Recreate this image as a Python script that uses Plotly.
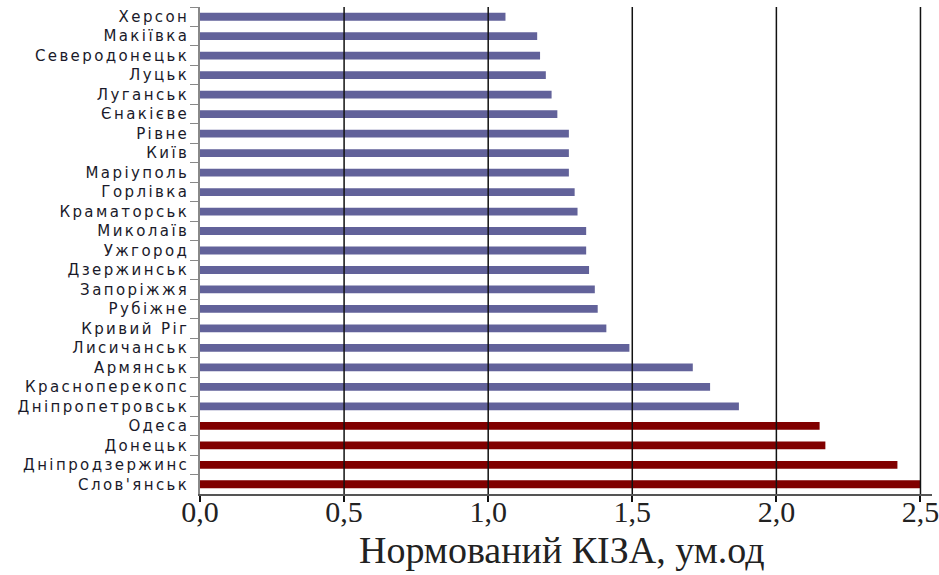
import plotly.graph_objects as go

# Normalised KIZA index by city, listed top to bottom
cities = [
    "Херсон", "Макіївка", "Северодонецьк", "Луцьк", "Луганськ", "Єнакієве",
    "Рівне", "Київ", "Маріуполь", "Горлівка", "Краматорськ", "Миколаїв",
    "Ужгород", "Дзержинськ", "Запоріжжя", "Рубіжне", "Кривий Ріг",
    "Лисичанськ", "Армянськ", "Красноперекопс", "Дніпропетровськ",
]
values = [
    1.06, 1.17, 1.18, 1.20, 1.22, 1.24,
    1.28, 1.28, 1.28, 1.30, 1.31, 1.34,
    1.34, 1.35, 1.37, 1.38, 1.41,
    1.49, 1.71, 1.77, 1.87,
]

# Cities with the highest index
top_cities = ["Одеса", "Донецьк", "Дніпродзержинс", "Слов'янськ"]
top_values = [2.15, 2.17, 2.42, 2.50]

x_ticks = [0.0, 0.5, 1.0, 1.5, 2.0, 2.5]
x_title = "Нормований КІЗА, ум.од"

all_cities = cities + top_cities

fig = go.Figure()
fig.add_trace(go.Bar(
    y=cities, x=values, orientation="h", width=0.4,
    marker=dict(color="#62629a", line=dict(width=0)),
))
fig.add_trace(go.Bar(
    y=top_cities, x=top_values, orientation="h", width=0.4,
    marker=dict(color="#800000", line=dict(width=0)),
))

# Vertical grid lines drawn over the bars
for t in x_ticks[1:]:
    fig.add_shape(type="line", x0=t, x1=t, y0=0, y1=1, xref="x", yref="paper",
                  line=dict(color="#111111", width=1.5), layer="above")

# Axis title below the tick labels
fig.add_annotation(
    text=x_title, xref="paper", yref="paper", x=0.494, y=0,
    xanchor="center", yanchor="top", yshift=-33, showarrow=False,
    font=dict(family="Liberation Serif", size=38, color="#222222"),
)

fig.update_layout(
    width=939, height=575,
    margin=dict(l=200, r=7, t=7, b=81, autoexpand=False),
    paper_bgcolor="white", plot_bgcolor="white",
    showlegend=False,
    separators=", ",
    bargap=0.6,
)
fig.update_xaxes(
    range=[0, 2.54], tickvals=x_ticks, tickformat=".1f",
    showgrid=False, zeroline=False,
    showline=True, linecolor="#555555", linewidth=1.5,
    ticks="outside", ticklen=6, tickcolor="#111111", tickwidth=1.5,
    ticklabeloverflow="allow", ticklabelstandoff=-16,
    tickfont=dict(family="Liberation Serif", size=30, color="#222222"),
)
fig.update_yaxes(
    categoryorder="array", categoryarray=all_cities, autorange="reversed",
    showgrid=False, zeroline=False,
    showline=True, linecolor="#888888", linewidth=1.5,
    ticks="outside", ticklen=8, tickcolor="#888888", tickson="boundaries",
    ticklabelstandoff=6,
    tickfont=dict(family="DejaVu Sans", size=15, color="#1a1a2a"),
)

# Wide letter spacing for the city names
spacing_js = """
document.querySelectorAll('.ytick text').forEach(function (t) {
    t.style.letterSpacing = '2.4px';
});
"""

fig.write_html("out.html", post_script=spacing_js)
